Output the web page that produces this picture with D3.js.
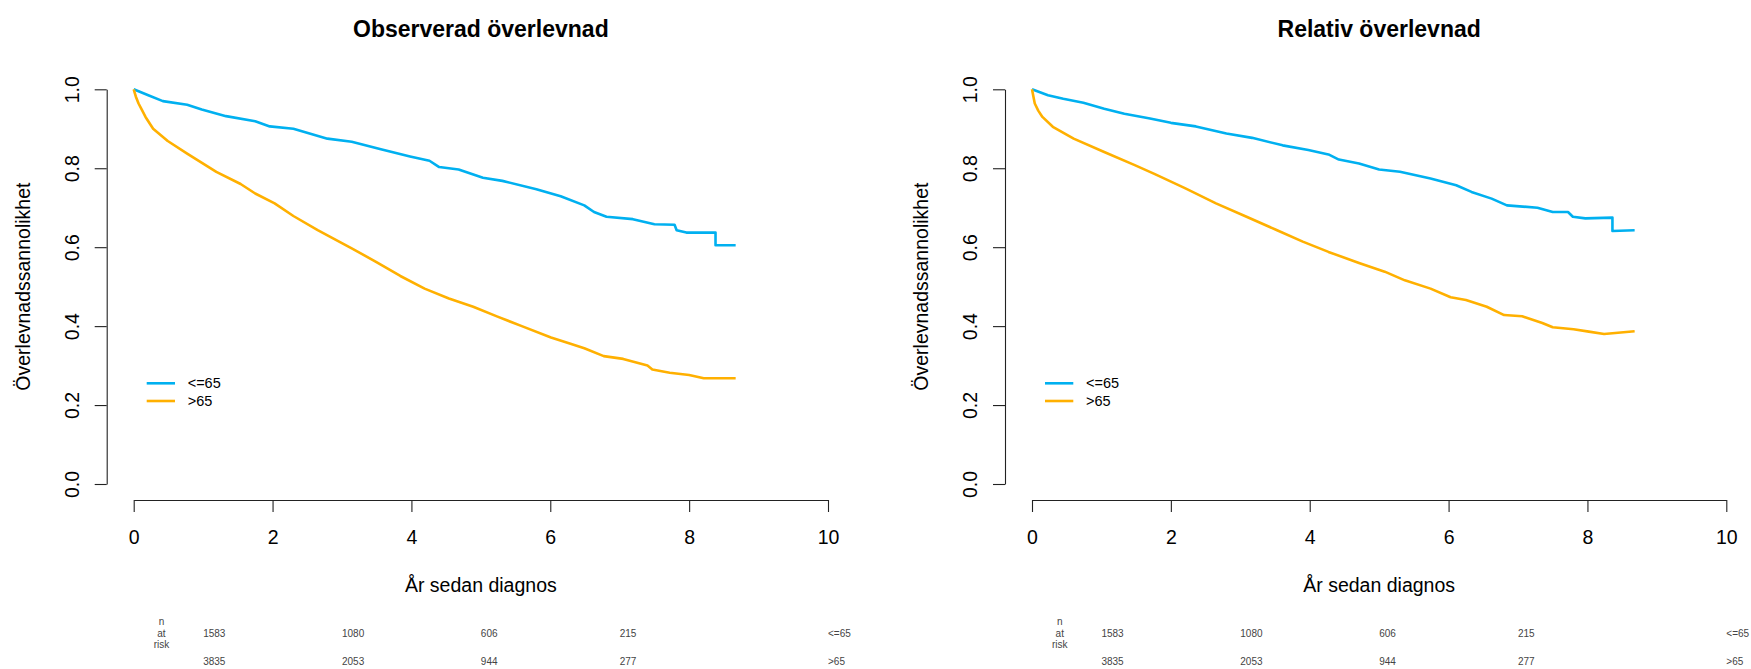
<!DOCTYPE html>
<html>
<head>
<meta charset="utf-8">
<script src="https://cdn.jsdelivr.net/npm/d3@7"></script>
<style>
  body { margin: 0; background: #fff; }
  svg text { font-family: "Liberation Sans", Arial, sans-serif; }
</style>
</head>
<body>
<svg id="chart" width="1751" height="669"></svg>
<script>
  // data: [years, survival]
  let groups = ["<=65", ">65"];
  let colors = ["#00B0F0", "#FFB000"];
  let xTicks = [0, 2, 4, 6, 8, 10];
  let yTicks = [0, 0.2, 0.4, 0.6, 0.8, 1.0];
  let riskTimes = [1, 3, 5, 7];
  let riskYoung = [1583, 1080, 606, 215];
  let riskOld = [3835, 2053, 944, 277];

  let observedYoung = [[0,1],[0.21,0.985],[0.42,0.970],[0.77,0.961],[0.98,0.949],[1.33,0.932],[1.75,0.919],
    [1.96,0.906],[2.30,0.900],[2.79,0.875],[3.14,0.867],[3.56,0.848],[3.98,0.830],[4.26,0.819],[4.40,0.803],
    [4.68,0.797],[5.03,0.776],[5.31,0.768],[5.80,0.747],[6.15,0.729],[6.49,0.706],[6.63,0.689],[6.81,0.677],
    [7.19,0.671],[7.50,0.658],[7.79,0.657],[7.82,0.643],[7.96,0.637],[8.38,0.637],[8.38,0.605],[8.67,0.605]];
  let observedOld = [[0,1],[0.03,0.982],[0.07,0.964],[0.12,0.947],[0.17,0.930],[0.28,0.900],[0.37,0.887],
    [0.49,0.869],[0.77,0.837],[1.19,0.791],[1.54,0.760],[1.75,0.736],[2.03,0.711],[2.30,0.679],[2.65,0.643],
    [3.14,0.597],[3.49,0.563],[3.84,0.527],[4.19,0.495],[4.54,0.470],[4.89,0.449],[5.24,0.424],[5.59,0.400],
    [6.01,0.371],[6.28,0.356],[6.49,0.344],[6.77,0.324],[7.05,0.317],[7.40,0.300],[7.47,0.290],[7.72,0.282],
    [8.00,0.276],[8.21,0.268],[8.67,0.268]];
  let relativeYoung = [[0,1],[0.23,0.985],[0.45,0.976],[0.74,0.966],[1.04,0.951],[1.33,0.938],[1.70,0.926],
    [2.00,0.915],[2.36,0.906],[2.80,0.888],[3.17,0.877],[3.61,0.858],[3.98,0.846],[4.27,0.835],[4.42,0.822],
    [4.71,0.812],[5.00,0.797],[5.30,0.791],[5.74,0.774],[6.11,0.757],[6.33,0.740],[6.62,0.723],[6.84,0.706],
    [7.28,0.700],[7.50,0.689],[7.72,0.689],[7.79,0.677],[7.97,0.673],[8.36,0.675],[8.36,0.641],[8.68,0.643]];
  let relativeOld = [[0,1],[0.02,0.982],[0.04,0.964],[0.09,0.946],[0.15,0.930],[0.30,0.905],[0.60,0.875],
    [1.04,0.841],[1.48,0.808],[1.77,0.785],[2.21,0.749],[2.65,0.711],[3.09,0.677],[3.53,0.643],[3.90,0.614],
    [4.27,0.588],[4.71,0.560],[5.08,0.538],[5.37,0.516],[5.74,0.495],[6.03,0.473],[6.25,0.466],[6.55,0.449],
    [6.80,0.428],[7.06,0.425],[7.35,0.408],[7.50,0.397],[7.80,0.392],[8.02,0.386],[8.24,0.380],[8.68,0.387]];

  let panels = [
    {title: "Observerad överlevnad", series: [observedYoung, observedOld], offset: 0},
    {title: "Relativ överlevnad", series: [relativeYoung, relativeOld], offset: 898.3}
  ];

  let svg = d3.select("#chart");
  let fontSize = 19.5;

  panels.forEach(function(p){
    let ox = p.offset;
    let x = d3.scaleLinear().domain([0, 10]).range([ox + 133.7, ox + 828]);
    let y = d3.scaleLinear().domain([0, 1]).range([484, 89.3]);
    let g = svg.append("g");

    // y axis, R style with rotated labels
    let yAxisG = g.append("g").attr("transform", "translate(" + (ox + 106.7) + ",0)")
      .call(d3.axisLeft(y).tickValues(yTicks).tickFormat(d3.format(".1f")).tickSize(12).tickSizeOuter(0));
    yAxisG.selectAll("text")
      .attr("x", null).attr("dy", "0.35em")
      .attr("transform", "translate(-35,0) rotate(-90)")
      .attr("text-anchor", "middle")
      .attr("fill", "#000")
      .style("font-size", fontSize + "px");

    let xAxisG = g.append("g").attr("transform", "translate(0,500)")
      .call(d3.axisBottom(x).tickValues(xTicks).tickSize(12).tickSizeOuter(0));
    xAxisG.selectAll("text")
      .attr("y", 36.7).attr("dy", "0.35em")
      .attr("fill", "#000")
      .style("font-size", fontSize + "px");

    g.selectAll(".domain, .tick line").attr("stroke", "#222").attr("stroke-width", 1.1);

    // titles
    g.append("text").attr("x", x(5)).attr("y", 28.7).attr("dy", "0.35em")
      .attr("text-anchor", "middle").style("font-size", "23px").style("font-weight", "bold")
      .text(p.title);
    g.append("text").attr("x", x(5)).attr("y", 585).attr("dy", "0.35em")
      .attr("text-anchor", "middle").style("font-size", fontSize + "px")
      .text("År sedan diagnos");
    g.append("text").attr("transform", "translate(" + (ox + 22.7) + "," + y(0.5) + ") rotate(-90)")
      .attr("dy", "0.35em").attr("text-anchor", "middle").style("font-size", fontSize + "px")
      .text("Överlevnadssannolikhet");

    // curves
    let line = d3.line().x(function(d){ return x(d[0]); }).y(function(d){ return y(d[1]); });
    p.series.forEach(function(s, i){
      g.append("path").datum(s).attr("d", line)
        .attr("fill", "none").attr("stroke", colors[i]).attr("stroke-width", 2.6)
        .attr("stroke-linejoin", "round");
    });

    // legend
    groups.forEach(function(name, i){
      let ly = 383.3 + i * 17.7;
      g.append("line").attr("x1", ox + 146.7).attr("x2", ox + 175).attr("y1", ly).attr("y2", ly)
        .attr("stroke", colors[i]).attr("stroke-width", 2.6);
      g.append("text").attr("x", ox + 187.7).attr("y", ly).attr("dy", "0.35em")
        .style("font-size", "14.5px").text(name);
    });

    // number at risk
    let risk = g.append("g").style("font-size", "10px").attr("fill", "#444");
    ["n", "at", "risk"].forEach(function(t, i){
      risk.append("text").attr("x", x(0.4)).attr("y", 621.7 + i * 11.3).attr("dy", "0.35em")
        .attr("text-anchor", "middle").text(t);
    });
    [riskYoung, riskOld].forEach(function(row, r){
      let ry = r == 0 ? 633.3 : 661.7;
      risk.selectAll(null).data(row).enter().append("text")
        .attr("x", function(d, i){ return x(riskTimes[i]); })
        .attr("y", ry).attr("dy", "0.35em")
        .text(function(d){ return d; });
      risk.append("text").attr("x", x(10)).attr("y", ry).attr("dy", "0.35em").text(groups[r]);
    });
  });
</script>
</body>
</html>
